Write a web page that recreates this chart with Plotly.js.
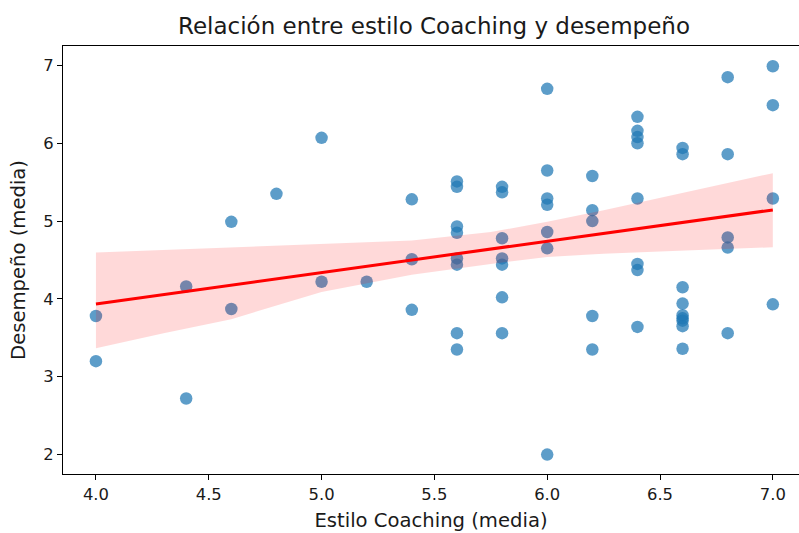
<!DOCTYPE html>
<html>
<head>
<meta charset="utf-8">
<script src="https://cdn.plot.ly/plotly-3.0.1.min.js"></script>
<style>html,body{margin:0;padding:0;background:#fff;}#chart{width:799px;height:533px;}</style>
</head>
<body>
<div id="chart"></div>
<script>
// Scatter data (Estilo Coaching media, Desempeño media)
const coaching = [
  4.0, 4.0,
  4.4, 4.4,
  4.6, 4.6,
  4.8,
  5.0, 5.0,
  5.2,
  5.4, 5.4, 5.4,
  5.6, 5.6, 5.6, 5.6, 5.6, 5.6, 5.6, 5.6,
  5.8, 5.8, 5.8, 5.8, 5.8, 5.8, 5.8,
  6.0, 6.0, 6.0, 6.0, 6.0, 6.0, 6.0,
  6.2, 6.2, 6.2, 6.2, 6.2,
  6.4, 6.4, 6.4, 6.4, 6.4, 6.4, 6.4, 6.4,
  6.6, 6.6, 6.6, 6.6, 6.6, 6.6, 6.6, 6.6, 6.6,
  6.8, 6.8, 6.8, 6.8, 6.8,
  7.0, 7.0, 7.0, 7.0
];
const desempeno = [
  3.78, 3.20,
  4.16, 2.72,
  4.99, 3.87,
  5.35,
  6.07, 4.22,
  4.22,
  5.28, 4.51, 3.86,
  5.51, 5.44, 4.93, 4.85, 4.52, 4.44, 3.56, 3.35,
  5.44, 5.37, 4.78, 4.52, 4.44, 4.02, 3.56,
  6.70, 5.65, 5.29, 5.21, 4.86, 4.65, 2.00,
  5.58, 5.14, 5.00, 3.78, 3.35,
  6.34, 6.16, 6.08, 6.00, 5.29, 4.45, 4.37, 3.64,
  5.94, 5.86, 4.15, 3.94, 3.79, 3.75, 3.72, 3.65, 3.36,
  6.85, 5.86, 4.79, 4.66, 3.56,
  6.99, 6.49, 5.29, 3.93
];

// Regression line
const fitX = [4.0, 7.0];
const fitY = [3.936, 5.144];

// Confidence band
const ciX     = [4.0,   4.3,  4.6,  5.0,   5.4,  5.75, 6.0,  6.25, 6.5,  7.0];
const ciUpper = [4.595, 4.63, 4.66, 4.707, 4.75, 4.86, 4.99, 5.14, 5.30, 5.616];
const ciLower = [3.366, 3.56, 3.74, 4.09,  4.31, 4.45, 4.54, 4.58, 4.61, 4.664];

const xTicks = [4.0, 4.5, 5.0, 5.5, 6.0, 6.5, 7.0];
const xTickText = ["4.0", "4.5", "5.0", "5.5", "6.0", "6.5", "7.0"];
const yTicks = [2, 3, 4, 5, 6, 7];

const FONT = "DejaVu Sans, sans-serif";
const TXT = "#1a1a1a";

const traces = [
  {
    x: coaching, y: desempeno, type: "scatter", mode: "markers",
    marker: {size: 12.5, color: "rgba(31,119,180,0.72)", line: {width: 0}},
    hoverinfo: "x+y", showlegend: false
  },
  {
    x: ciX, y: ciLower, type: "scatter", mode: "lines",
    line: {width: 0, color: "rgba(0,0,0,0)"}, hoverinfo: "skip", showlegend: false
  },
  {
    x: ciX, y: ciUpper, type: "scatter", mode: "lines", fill: "tonexty",
    fillcolor: "rgba(255,0,0,0.15)",
    line: {width: 0, color: "rgba(0,0,0,0)"}, hoverinfo: "skip", showlegend: false
  },
  {
    x: fitX, y: fitY, type: "scatter", mode: "lines",
    line: {color: "red", width: 3}, hoverinfo: "skip", showlegend: false
  }
];

const layout = {
  width: 799, height: 533,
  margin: {l: 63, r: 0, t: 46, b: 59, pad: 0},
  paper_bgcolor: "#fff", plot_bgcolor: "#fff",
  font: {family: FONT, size: 16.4, color: TXT},
  title: {
    text: "Relación entre estilo Coaching y desempeño",
    font: {family: FONT, size: 23, color: TXT},
    xref: "container", x: 434 / 799, xanchor: "center",
    yref: "container", y: 1 - 26 / 533, yanchor: "middle"
  },
  xaxis: {
    range: [3.854, 7.116],
    tickvals: xTicks, ticktext: xTickText,
    ticks: "outside", ticklen: 5, tickwidth: 1, tickcolor: "#000",
    showline: true, linecolor: "#000", linewidth: 1, mirror: true,
    showgrid: false, zeroline: false,
    tickfont: {family: FONT, size: 16.4, color: TXT},
    title: {text: "Estilo Coaching (media)", font: {family: FONT, size: 19.6, color: TXT}, standoff: 10}
  },
  yaxis: {
    range: [1.75, 7.25],
    tickvals: yTicks,
    ticks: "outside", ticklen: 5, tickwidth: 1, tickcolor: "#000",
    showline: true, linecolor: "#000", linewidth: 1, mirror: false,
    showgrid: false, zeroline: false,
    tickfont: {family: FONT, size: 16.4, color: TXT},
    title: {text: "Desempeño (media)", font: {family: FONT, size: 19.6, color: TXT}, standoff: 12}
  }
};

Plotly.newPlot("chart", traces, layout, {displayModeBar: false, staticPlot: true});
</script>
</body>
</html>
